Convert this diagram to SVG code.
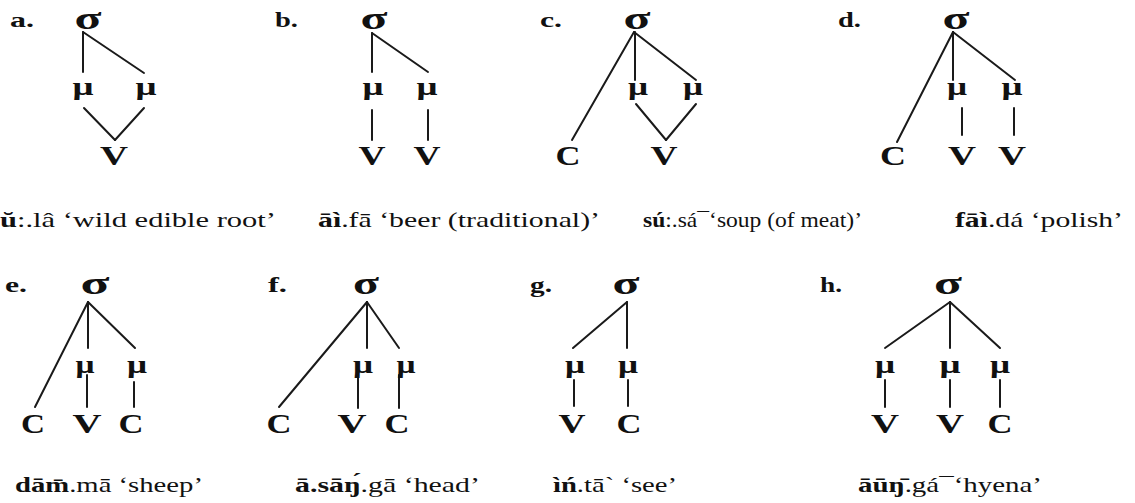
<svg xmlns="http://www.w3.org/2000/svg" width="1135" height="503" viewBox="0 0 1135 503">
  <style>
    text { font-family: "Liberation Serif", "Times New Roman", serif; fill: #111; }
    .lab { font-size: 22px; font-weight: bold; }
    .sig { font-size: 32px; font-weight: bold; text-anchor: middle; }
    .mu { font-size: 25px; font-weight: bold; text-anchor: middle; }
    .seg { font-size: 27px; font-weight: bold; text-anchor: middle; }
    .cap { font-size: 21px; }
    .b { font-weight: bold; }
    line { stroke: #1a1a1a; stroke-width: 2; stroke-linecap: round; }
  </style>
  <rect width="1135" height="503" fill="#ffffff"/>

  <!-- association lines -->
  <g id="connectors">
    <!-- a -->
    <line x1="83" y1="32" x2="83" y2="72"/>
    <line x1="83" y1="32" x2="144" y2="73"/>
    <line x1="84" y1="108" x2="115" y2="140"/>
    <line x1="144" y1="108" x2="115" y2="140"/>
    <!-- b -->
    <line x1="372" y1="33" x2="372" y2="72"/>
    <line x1="372" y1="33" x2="428" y2="72"/>
    <line x1="372" y1="110" x2="372" y2="140"/>
    <line x1="428" y1="110" x2="428" y2="140"/>
    <!-- c -->
    <line x1="634" y1="32" x2="572" y2="140"/>
    <line x1="635" y1="32" x2="635" y2="80"/>
    <line x1="634" y1="32" x2="696" y2="80"/>
    <line x1="636" y1="104" x2="666" y2="140"/>
    <line x1="696" y1="104" x2="666" y2="140"/>
    <!-- d -->
    <line x1="953" y1="32" x2="897" y2="142"/>
    <line x1="953" y1="32" x2="953" y2="80"/>
    <line x1="953" y1="32" x2="1015" y2="80"/>
    <line x1="962" y1="108" x2="962" y2="135"/>
    <line x1="1014" y1="108" x2="1014" y2="135"/>
    <!-- e -->
    <line x1="88" y1="302" x2="35" y2="407"/>
    <line x1="88" y1="302" x2="88" y2="348"/>
    <line x1="88" y1="302" x2="135" y2="348"/>
    <line x1="87" y1="375" x2="87" y2="407"/>
    <line x1="134" y1="382" x2="134" y2="407"/>
    <!-- f -->
    <line x1="367" y1="302" x2="279" y2="407"/>
    <line x1="367" y1="302" x2="367" y2="348"/>
    <line x1="367" y1="302" x2="399" y2="348"/>
    <line x1="358" y1="375" x2="358" y2="408"/>
    <line x1="399" y1="375" x2="399" y2="408"/>
    <!-- g -->
    <line x1="627" y1="302" x2="573" y2="348"/>
    <line x1="627" y1="302" x2="627" y2="348"/>
    <line x1="574" y1="380" x2="574" y2="406"/>
    <line x1="628" y1="380" x2="628" y2="406"/>
    <!-- h -->
    <line x1="950" y1="302" x2="885" y2="348"/>
    <line x1="950" y1="302" x2="950" y2="348"/>
    <line x1="950" y1="302" x2="1000" y2="348"/>
    <line x1="885" y1="380" x2="885" y2="407"/>
    <line x1="950" y1="380" x2="950" y2="407"/>
    <line x1="1000" y1="380" x2="1000" y2="407"/>
  </g>

  <!-- a. -->
  <g id="tree-a">
    <text class="lab" x="10" y="27" textLength="24" lengthAdjust="spacingAndGlyphs">a.</text>
    <text class="sig" x="88" y="29" textLength="27" lengthAdjust="spacingAndGlyphs">σ</text>
    <text class="mu" x="83" y="95" textLength="21" lengthAdjust="spacingAndGlyphs">μ</text>
    <text class="mu" x="146" y="95" textLength="21" lengthAdjust="spacingAndGlyphs">μ</text>
    <text class="seg" x="114" y="165" textLength="28" lengthAdjust="spacingAndGlyphs">V</text>
    <text class="cap" x="0" y="227" textLength="276" lengthAdjust="spacingAndGlyphs"><tspan class="b">ŭ</tspan>:.lâ ‘wild edible root’</text>
  </g>

  <!-- b. -->
  <g id="tree-b">
    <text class="lab" x="275" y="27" textLength="23" lengthAdjust="spacingAndGlyphs">b.</text>
    <text class="sig" x="374" y="29" textLength="27" lengthAdjust="spacingAndGlyphs">σ</text>
    <text class="mu" x="373" y="95" textLength="21" lengthAdjust="spacingAndGlyphs">μ</text>
    <text class="mu" x="427" y="95" textLength="21" lengthAdjust="spacingAndGlyphs">μ</text>
    <text class="seg" x="372" y="165" textLength="27" lengthAdjust="spacingAndGlyphs">V</text>
    <text class="seg" x="427" y="165" textLength="27" lengthAdjust="spacingAndGlyphs">V</text>
    <text class="cap" x="318" y="227" textLength="282" lengthAdjust="spacingAndGlyphs"><tspan class="b">āì</tspan>.fā  ‘beer (traditional)’</text>
  </g>

  <!-- c. -->
  <g id="tree-c">
    <text class="lab" x="540" y="27" textLength="22" lengthAdjust="spacingAndGlyphs">c.</text>
    <text class="sig" x="637" y="29" textLength="27" lengthAdjust="spacingAndGlyphs">σ</text>
    <text class="mu" x="638" y="95" textLength="20" lengthAdjust="spacingAndGlyphs">μ</text>
    <text class="mu" x="693" y="95" textLength="20" lengthAdjust="spacingAndGlyphs">μ</text>
    <text class="seg" x="568" y="165" textLength="25" lengthAdjust="spacingAndGlyphs">C</text>
    <text class="seg" x="664" y="165" textLength="27" lengthAdjust="spacingAndGlyphs">V</text>
    <text class="cap" x="643" y="227" textLength="219" lengthAdjust="spacingAndGlyphs"><tspan class="b">sú</tspan>:.sá¯‘soup (of meat)’</text>
  </g>

  <!-- d. -->
  <g id="tree-d">
    <text class="lab" x="838" y="27" textLength="23" lengthAdjust="spacingAndGlyphs">d.</text>
    <text class="sig" x="956" y="29" textLength="27" lengthAdjust="spacingAndGlyphs">σ</text>
    <text class="mu" x="957" y="95" textLength="20" lengthAdjust="spacingAndGlyphs">μ</text>
    <text class="mu" x="1012" y="95" textLength="21" lengthAdjust="spacingAndGlyphs">μ</text>
    <text class="seg" x="893" y="165" textLength="26" lengthAdjust="spacingAndGlyphs">C</text>
    <text class="seg" x="962" y="165" textLength="28" lengthAdjust="spacingAndGlyphs">V</text>
    <text class="seg" x="1012" y="165" textLength="28" lengthAdjust="spacingAndGlyphs">V</text>
    <text class="cap" x="955" y="227" textLength="168" lengthAdjust="spacingAndGlyphs"><tspan class="b">fāì</tspan>.dá ‘polish’</text>
  </g>

  <!-- e. -->
  <g id="tree-e">
    <text class="lab" x="5" y="292" textLength="22" lengthAdjust="spacingAndGlyphs">e.</text>
    <text class="sig" x="95" y="294" textLength="29" lengthAdjust="spacingAndGlyphs">σ</text>
    <text class="mu" x="85" y="373" textLength="19" lengthAdjust="spacingAndGlyphs">μ</text>
    <text class="mu" x="137" y="373" textLength="20" lengthAdjust="spacingAndGlyphs">μ</text>
    <text class="seg" x="33" y="433" textLength="24" lengthAdjust="spacingAndGlyphs">C</text>
    <text class="seg" x="87" y="433" textLength="29" lengthAdjust="spacingAndGlyphs">V</text>
    <text class="seg" x="131" y="433" textLength="25" lengthAdjust="spacingAndGlyphs">C</text>
    <text class="cap" x="15" y="492" textLength="188" lengthAdjust="spacingAndGlyphs"><tspan class="b">dām̄</tspan>.mā ‘sheep’</text>
  </g>

  <!-- f. -->
  <g id="tree-f">
    <text class="lab" x="268" y="292" textLength="19" lengthAdjust="spacingAndGlyphs">f.</text>
    <text class="sig" x="366" y="294" textLength="26" lengthAdjust="spacingAndGlyphs">σ</text>
    <text class="mu" x="363" y="373" textLength="20" lengthAdjust="spacingAndGlyphs">μ</text>
    <text class="mu" x="406" y="373" textLength="19" lengthAdjust="spacingAndGlyphs">μ</text>
    <text class="seg" x="279" y="433" textLength="25" lengthAdjust="spacingAndGlyphs">C</text>
    <text class="seg" x="352" y="433" textLength="29" lengthAdjust="spacingAndGlyphs">V</text>
    <text class="seg" x="397" y="433" textLength="25" lengthAdjust="spacingAndGlyphs">C</text>
    <text class="cap" x="295" y="492" textLength="185" lengthAdjust="spacingAndGlyphs"><tspan class="b">ā.sāŋ́</tspan>.gā ‘head’</text>
  </g>

  <!-- g. -->
  <g id="tree-g">
    <text class="lab" x="530" y="292" textLength="22" lengthAdjust="spacingAndGlyphs">g.</text>
    <text class="sig" x="626" y="294" textLength="27" lengthAdjust="spacingAndGlyphs">σ</text>
    <text class="mu" x="575" y="373" textLength="20" lengthAdjust="spacingAndGlyphs">μ</text>
    <text class="mu" x="628" y="373" textLength="20" lengthAdjust="spacingAndGlyphs">μ</text>
    <text class="seg" x="572" y="433" textLength="27" lengthAdjust="spacingAndGlyphs">V</text>
    <text class="seg" x="629" y="433" textLength="25" lengthAdjust="spacingAndGlyphs">C</text>
    <text class="cap" x="553" y="492" textLength="124" lengthAdjust="spacingAndGlyphs"><tspan class="b">ìń</tspan>.tā` ‘see’</text>
  </g>

  <!-- h. -->
  <g id="tree-h">
    <text class="lab" x="820" y="292" textLength="22" lengthAdjust="spacingAndGlyphs">h.</text>
    <text class="sig" x="948" y="294" textLength="28" lengthAdjust="spacingAndGlyphs">σ</text>
    <text class="mu" x="885" y="373" textLength="20" lengthAdjust="spacingAndGlyphs">μ</text>
    <text class="mu" x="950" y="373" textLength="21" lengthAdjust="spacingAndGlyphs">μ</text>
    <text class="mu" x="1000" y="373" textLength="20" lengthAdjust="spacingAndGlyphs">μ</text>
    <text class="seg" x="885" y="433" textLength="28" lengthAdjust="spacingAndGlyphs">V</text>
    <text class="seg" x="950" y="433" textLength="28" lengthAdjust="spacingAndGlyphs">V</text>
    <text class="seg" x="1000" y="433" textLength="25" lengthAdjust="spacingAndGlyphs">C</text>
    <text class="cap" x="858" y="492" textLength="184" lengthAdjust="spacingAndGlyphs"><tspan class="b">āūŋ̄</tspan>.gá¯‘hyena’</text>
  </g>
</svg>
